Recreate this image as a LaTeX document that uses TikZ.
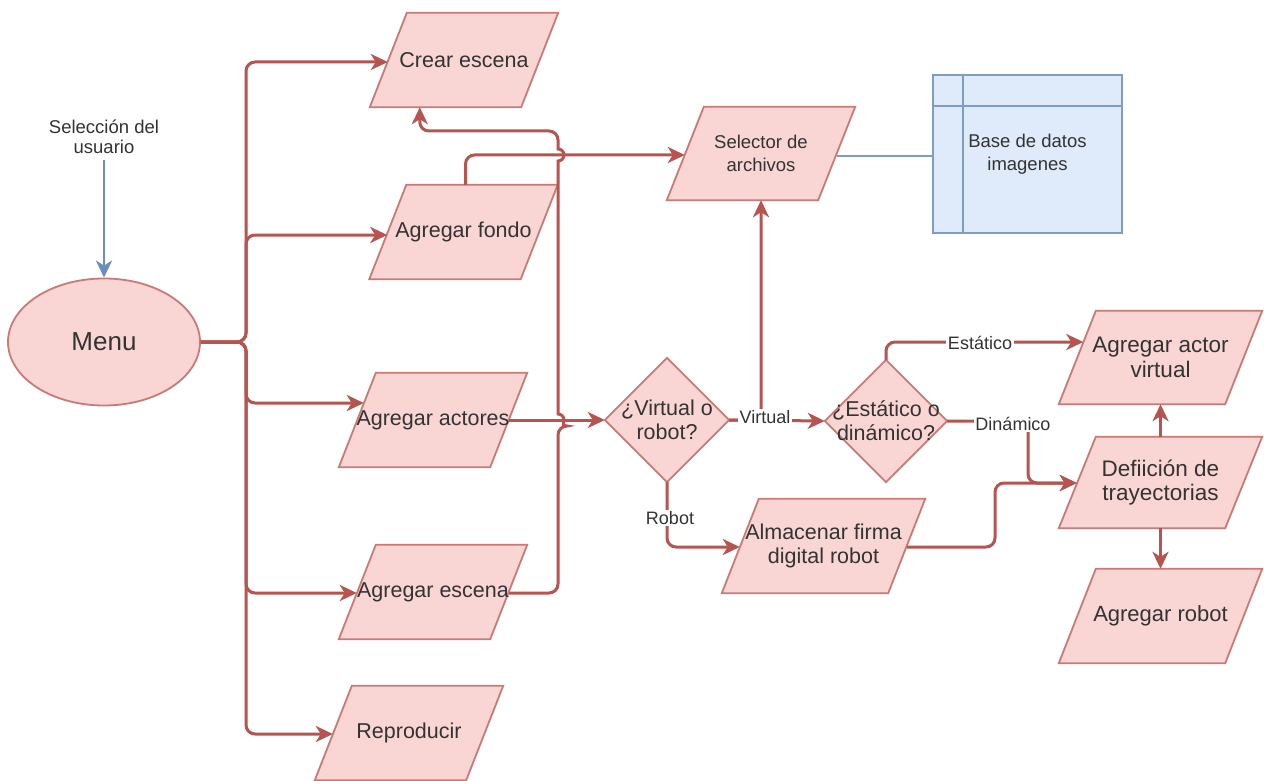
\documentclass[tikz,border=0pt]{standalone}
\usepackage{fontspec}
\setmainfont{Liberation Sans}
\usetikzlibrary{arrows.meta,calc,shapes.geometric,backgrounds}

\definecolor{edgered}{HTML}{B85450}
\definecolor{shapefill}{HTML}{F9D6D4}
\definecolor{shapeline}{HTML}{C97A77}
\definecolor{dbfill}{HTML}{DFEAFB}
\definecolor{dbline}{HTML}{7E9CC6}
\definecolor{userblue}{HTML}{6C8EBF}
\definecolor{txt}{HTML}{333333}

\newcommand\bigtext{\fontsize{21.5}{24}\selectfont}
\newcommand\smalltext{\fontsize{18.5}{23}\selectfont}
\newcommand\edgetext{\fontsize{18}{20}\selectfont}

% parallelogram drawn around a (borderless) rectangular node
\newcommand\drawpara[2][37]{%
  \draw[pshape] (#2.south west) -- ([xshift=#1pt]#2.north west) --
    (#2.north east) -- ([xshift=-#1pt]#2.south east) -- cycle;}
% diamond drawn around a (borderless) rectangular node
\newcommand\drawdiamond[1]{%
  \draw[pshape] (#1.north) -- (#1.east) -- (#1.south) -- (#1.west) -- cycle;}

\tikzset{
  box/.style={inner sep=0pt, text=txt, align=center, font=\bigtext},
  pshape/.style={draw=shapeline, fill=shapefill, line width=1.8pt, line join=miter},
  tip/.style={-{Stealth[length=17pt,width=16pt,inset=5pt]}},
  conn/.style={draw=edgered, line width=3pt, rounded corners=9pt, tip},
  elabel/.style={fill=white, inner sep=1.5pt, text=txt, font=\edgetext},
}

\begin{document}
\begin{tikzpicture}[x=1pt, y=-1pt]
\useasboundingbox (0,0) rectangle (1264,781);

% ---------- nodes ----------
\node[box, ellipse, draw=shapeline, fill=shapefill, line width=1.8pt,
      minimum width=192pt, minimum height=127pt,
      font=\fontsize{26}{30}\selectfont] (menu) at (104,342) {Menu};
\node[box, font=\fontsize{18.5}{20}\selectfont] (user) at (104,137) {Selección del\\usuario};

\node[box, minimum width=188pt, minimum height=94pt] (crear)   at (464,60)    {Crear escena};
\node[box, minimum width=188pt, minimum height=94pt] (fondo)   at (463.5,232) {Agregar fondo};
\node[box, minimum width=188pt, minimum height=94pt] (actores) at (433,420)   {Agregar actores};
\node[box, minimum width=188pt, minimum height=94pt] (escena)  at (433,592)   {Agregar escena};
\node[box, minimum width=188pt, minimum height=94pt] (repro)   at (409,733)   {Reproducir};

\node[box, font=\smalltext, minimum width=188pt, minimum height=93pt] (selector) at (761,153.5) {Selector de\\archivos};
\node[box, minimum width=203pt, minimum height=94pt] (almac) at (823.5,546) {Almacenar firma\\digital robot};

\node[box, minimum width=124pt, minimum height=124pt] (vr) at (667,420) {¿Virtual o\\robot?};
\node[box, minimum width=122pt, minimum height=122pt] (ed) at (886,421) {¿Estático o\\dinámico?};

\node[box, font=\fontsize{22.5}{24.5}\selectfont, minimum width=203pt, minimum height=93pt] (actorv) at (1160.5,357.5) {Agregar actor\\virtual};
\node[box, font=\fontsize{22.5}{24.5}\selectfont, minimum width=203pt, minimum height=91pt] (defin)  at (1160.5,482.5) {Defiición de\\trayectorias};
\node[box, font=\fontsize{22}{24}\selectfont, minimum width=203pt, minimum height=94pt] (robot)  at (1160.5,616)   {Agregar robot};

\node[box, font=\smalltext, draw=dbline, fill=dbfill, line width=1.8pt,
      minimum width=189pt, minimum height=158pt] (db) at (1027.5,154) {Base de datos\\imagenes};

% ---------- shapes behind the texts ----------
\begin{pgfonlayer}{background}
  \fill[white] (0,0) rectangle (1264,781);
  \foreach \n in {crear,fondo,actores,escena,repro,selector,almac,actorv,defin,robot}
    {\drawpara{\n}}
  \drawdiamond{vr}
  \drawdiamond{ed}
\end{pgfonlayer}
\draw[dbline, line width=1.8pt] ($(db.north west)+(31,0)$) -- ($(db.south west)+(31,0)$);
\draw[dbline, line width=1.8pt] ($(db.north west)+(0,32)$) -- ($(db.north east)+(0,32)$);

% ---------- connectors ----------
\draw[userblue, line width=2.6pt, tip] ($(user.south)+(0,6)$) -- (menu.north);

\coordinate (hub) at (246,342);
\draw[conn] (menu.east) -- (hub) |- ($(crear.west)+(18,2)$);
\draw[conn] (menu.east) -- (hub) |- ($(fondo.west)+(18,3)$);
\draw[conn] (menu.east) -- (hub) |- ($(actores.west)+(25,-17)$);
\draw[conn] (menu.east) -- (hub) |- ($(escena.west)+(18,1)$);
\draw[conn] (menu.east) -- (hub) |- ($(repro.west)+(18,1)$);

% return line: hops to the right over the two horizontal lines it crosses
\draw[conn] ($(escena.east)+(-18,1)$) -| (558,426) [sharp corners]
  arc[start angle=90, end angle=-90, radius=6] -- (558,161)
  arc[start angle=90, end angle=-90, radius=6] [rounded corners=9pt]
  -- (558,131) -| ($(crear.south west)+(50,0)$);

\draw[conn] ($(fondo.north)+(2,0)$) |- ($(selector.west)+(18,1.5)$);
\draw[conn] ($(actores.east)+(-18,0)$) -- (vr.west);

\draw[dbline, line width=2.5pt] ($(selector.east)+(-18,2.5)$) -- ($(db.west)+(0,2)$);

\draw[conn] (vr.east) -| (selector.south);
\draw[conn] (vr.east) -- (ed.west);
\draw[conn] (vr.south) |- ($(almac.west)+(18,1)$);

\draw[conn] (ed.north) |- ($(actorv.west)+(24.5,-15.5)$);
\draw[conn] (ed.east) -| (1028,483) -- ($(defin.west)+(18,0.5)$);
\draw[conn] ($(almac.east)+(-18,1)$) -| (995,483) -- ($(defin.west)+(18,0.5)$);

\draw[conn] (defin.north) -- (actorv.south);
\draw[conn] (defin.south) -- (robot.north);

% ---------- connector labels ----------
\node[elabel] (lvirtual)  at (765,417) {Virtual};
\node[elabel] (lrobot)    at (670,518) {Robot};
\node[elabel] (lestatico) at (980,343) {Estático};
\node[elabel] (ldinamico) at (1013,424) {Dinámico};
\end{tikzpicture}
\end{document}
